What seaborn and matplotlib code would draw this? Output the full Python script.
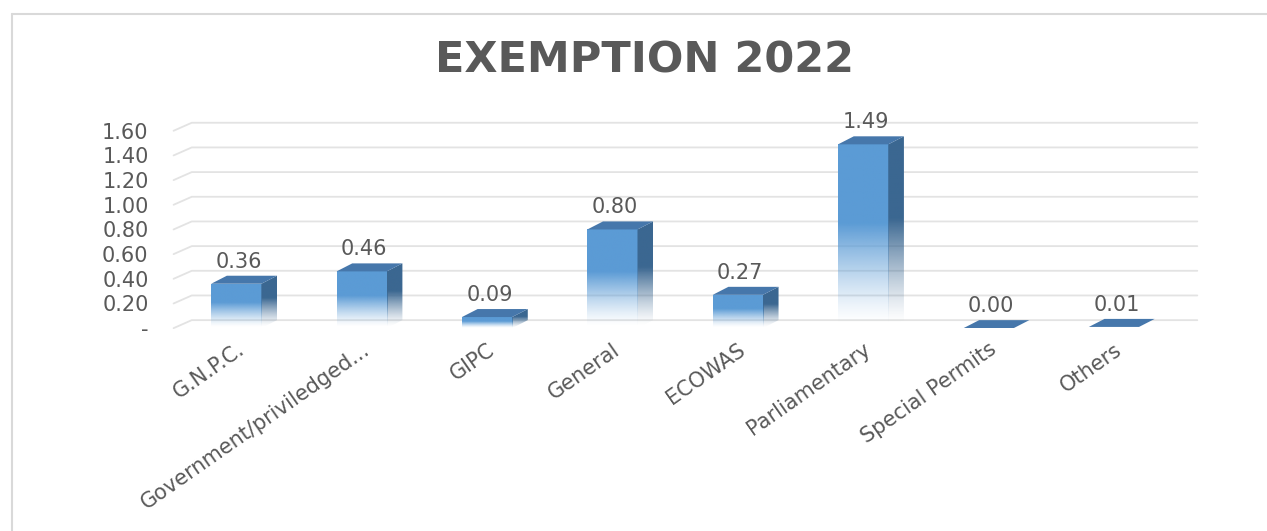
import numpy as np
import pandas as pd
import matplotlib
matplotlib.use("Agg")
import matplotlib.pyplot as plt
import seaborn as sns
from matplotlib.patches import Polygon
from matplotlib.lines import Line2D

categories = ["G.N.P.C.", "Government/priviledged...", "GIPC", "General",
              "ECOWAS", "Parliamentary", "Special Permits", "Others"]
values = [0.36, 0.46, 0.09, 0.80, 0.27, 1.49, 0.00, 0.01]
yticks = [0.0, 0.2, 0.4, 0.6, 0.8, 1.0, 1.2, 1.4, 1.6]
ytick_labels = ["-", "0.20", "0.40", "0.60", "0.80", "1.00", "1.20", "1.40", "1.60"]
title = "EXEMPTION 2022"

sns.set_theme(style="white")
plt.rcParams['font.family'] = ['DejaVu Sans']

TXT = "#595959"
FRONT = "#5b9bd5"
SIDE = "#3b6791"
TOP = "#4677ab"
dx, dy = 0.125, 0.065

fig = plt.figure(figsize=(12.67, 5.31), dpi=100)
ax = fig.add_axes([0.137, 0.382, 0.945 - 0.137, 0.770 - 0.382])

df = pd.DataFrame({"cat": categories, "val": values})
sns.barplot(data=df, x="cat", y="val", width=0.4, color=FRONT, ax=ax,
            saturation=1, zorder=3)

ax.set_xlim(-0.5, 7.5 + dx + 0.04)
ax.set_ylim(0, 1.6 + dy + 0.005)

# back-wall gridlines with perspective slant
for t in yticks:
    ax.plot([-0.5, -0.5 + dx + 0.02, 7.5 + dx + 0.04], [t, t + dy, t + dy],
            color="#e3e3e3", lw=1.3, zorder=1, clip_on=False)

def gradient_rgba(rgb_hex, n=200):
    rgb = np.array(matplotlib.colors.to_rgb(rgb_hex))
    y = np.linspace(0, 1, n)  # 0 bottom, 1 top
    alpha = np.clip((y - 0.02) / 0.55, 0, 1) ** 1.3
    arr = np.ones((n, 1, 4))
    arr[:, 0, :3] = rgb
    arr[:, 0, 3] = alpha
    return arr[::-1]  # imshow origin upper

for p in ax.patches:
    x0 = p.get_x()
    w = p.get_width()
    h = p.get_height()
    x1 = x0 + w
    p.set_facecolor("none")
    p.set_edgecolor("none")
    if h > 0.02:
        im = ax.imshow(gradient_rgba(FRONT), extent=(x0, x1, 0, h),
                       aspect="auto", zorder=3, interpolation="bilinear")
        im.set_clip_path(p)
        side = Polygon([(x1, 0), (x1 + dx, dy), (x1 + dx, h + dy), (x1, h)],
                       closed=True, facecolor="none", edgecolor="none", zorder=3)
        ax.add_patch(side)
        im2 = ax.imshow(gradient_rgba(SIDE), extent=(x1, x1 + dx, 0, h + dy),
                        aspect="auto", zorder=3, interpolation="bilinear")
        im2.set_clip_path(side)
    top = Polygon([(x0, h), (x0 + dx, h + dy), (x1 + dx, h + dy), (x1, h)],
                  closed=True, facecolor=TOP, edgecolor="none", zorder=4)
    ax.add_patch(top)
    ax.annotate(f"{h:.2f}", xy=(x0 + w / 2 + 0.02, h + dy), xytext=(0, 3),
                textcoords="offset points", ha="center", va="bottom",
                fontsize=15, color=TXT)

ax.set_xlim(-0.5, 7.5 + dx + 0.04)
ax.set_ylim(0, 1.6 + dy + 0.005)
ax.set_yticks(yticks)
ax.set_yticklabels(ytick_labels, fontsize=15, color=TXT)
ax.tick_params(axis="y", length=0, pad=18)
ax.tick_params(axis="x", length=0, pad=8)
ax.set_xticks(range(len(categories)))
ax.set_xticklabels(categories, rotation=35, ha="right", rotation_mode="anchor",
                   fontsize=15, color=TXT)
for lab in ax.get_yticklabels():
    lab.set_horizontalalignment("right")
ax.set_xlabel("")
ax.set_ylabel("")
for s in ax.spines.values():
    s.set_visible(False)

fig.text(0.509, 0.887, title, ha="center", va="center", fontsize=31,
         fontweight="bold", color=TXT)

# chart border (left and top visible)
fig.add_artist(Line2D([12 / 1267, 12 / 1267], [0, 1 - 14 / 531], color="#d9d9d9",
                      lw=1.5, transform=fig.transFigure))
fig.add_artist(Line2D([12 / 1267, 1], [1 - 14 / 531, 1 - 14 / 531], color="#d9d9d9",
                      lw=1.5, transform=fig.transFigure))

fig.savefig("out.png", dpi=100, facecolor="white")
